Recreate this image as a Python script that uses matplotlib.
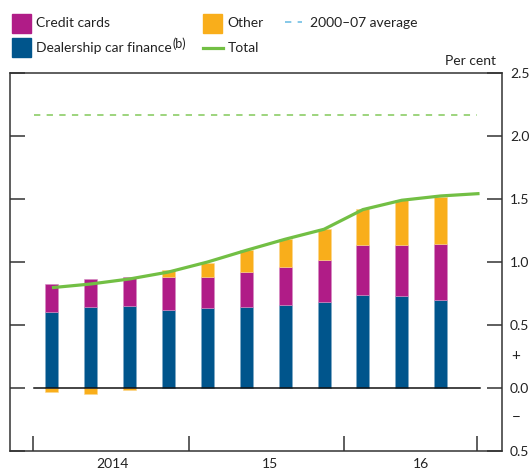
import numpy as np
import matplotlib
matplotlib.use("Agg")
import matplotlib.pyplot as plt
from matplotlib.patches import Rectangle
from matplotlib.lines import Line2D

plt.rcParams['font.family'] = ['Lato', 'DejaVu Sans']

# quarterly data, 2014 Q1 - 2016 Q3 (percentage points)
quarters = ['2014Q1', '2014Q2', '2014Q3', '2014Q4', '2015Q1', '2015Q2',
            '2015Q3', '2015Q4', '2016Q1', '2016Q2', '2016Q3']
dealer = [0.60, 0.64, 0.65, 0.62, 0.63, 0.64, 0.66, 0.68, 0.74, 0.73, 0.70]
credit = [0.225, 0.226, 0.23, 0.259, 0.251, 0.278, 0.302, 0.331, 0.391, 0.407, 0.439]
other = [-0.033, -0.052, -0.017, 0.059, 0.111, 0.178, 0.217, 0.246, 0.286, 0.35, 0.373]
# total line (last point is the latest monthly reading)
total_x = [0, 1, 2, 3, 4, 5, 6, 7, 8, 9, 10, 11]
total = [0.795, 0.824, 0.864, 0.919, 0.998, 1.091, 1.179, 1.258, 1.414, 1.488, 1.522, 1.541]
avg_0007 = 2.16
year_labels = ['2014', '15', '16']
year_pos = [1.55, 5.6, 9.5]
year_ticks = [-0.49, 3.52, 7.52, 10.94]

c_dealer = '#00558c'
c_credit = '#b01c87'
c_other = '#f9ae1b'
c_total = '#72bf44'
c_avg = '#95d173'
c_avgleg = '#7cc4e6'
c_axis = '#333333'
txt = '#222222'

fig = plt.figure(figsize=(5.31, 4.71), dpi=100)
W, H = 531, 471
ax = fig.add_axes([10.3 / W, 1 - 451 / H, (501.7 - 10.3) / W, (451 - 72.6) / H])

x = np.arange(len(quarters))
dealer = np.array(dealer)
credit = np.array(credit)
other = np.array(other)
bw = 0.335
ax.bar(x, dealer, bw, color=c_dealer, edgecolor='#7fa9c6', linewidth=0.4, zorder=2)
ax.bar(x, credit, bw, bottom=dealer, color=c_credit, edgecolor='#d68cc3', linewidth=0.4, zorder=2)
ax.bar(x, other, bw, bottom=np.where(other > 0, dealer + credit, 0),
       color=c_other, edgecolor='#fcd68d', linewidth=0.4, zorder=2)

ax.plot([-0.455, 11.0], [0, 0], color='#111111', lw=1.1, zorder=3)
ax.plot([-0.47, 10.93], [avg_0007, avg_0007], color=c_avg, lw=1.3,
        dashes=(3.5, 3.5), zorder=2)
ax.plot(total_x, total, color=c_total, lw=2.3, zorder=4, solid_capstyle='butt')

ax.set_xlim(-1.07, 11.57)
ax.set_ylim(-0.5, 2.5)

for s in ax.spines.values():
    s.set_color(c_axis)
    s.set_linewidth(1.1)

yt = [-0.5, 0, 0.5, 1.0, 1.5, 2.0, 2.5]
ax.set_yticks(yt)
ax.set_yticklabels(['0.5', '0.0', '0.5', '1.0', '1.5', '2.0', '2.5'])
ax.tick_params(axis='y', direction='in', left=True, right=True, labelleft=False,
               labelright=True, length=10.5, width=1.1, color=c_axis,
               labelsize=10, labelcolor=txt, pad=6)
ax.set_xticks(year_ticks)
ax.set_xticklabels([])
ax.set_xticks(year_pos, minor=True)
ax.set_xticklabels(year_labels, minor=True)
ax.tick_params(axis='x', which='major', direction='in', length=11, width=1.1,
               color=c_axis)
ax.tick_params(axis='x', which='minor', length=0, labelsize=10,
               labelcolor=txt, pad=5)

tr = ax.get_yaxis_transform()
ax.text(1.02, 0.25, '+', transform=tr, ha='left', va='center', fontsize=11, color=txt)
ax.text(1.02, -0.24, '\u2212', transform=tr, ha='left', va='center', fontsize=11, color=txt)
fig.text(496 / W, 1 - 61 / H, 'Per cent', ha='right', va='center', fontsize=10, color=txt)

# legend drawn by hand
def sq(x0, y0, color):
    fig.add_artist(Rectangle((x0 / W, 1 - (y0 + 19) / H), 19 / W, 19 / H,
                             color=color, transform=fig.transFigure))

def lab(x0, yc, s):
    return fig.text(x0 / W, 1 - yc / H, s, ha='left', va='center', fontsize=10, color=txt)

sq(12, 14, c_credit)
lab(36, 23, 'Credit cards')
sq(12, 38, c_dealer)
t = lab(36, 48, 'Dealership car finance')
sq(203, 14, c_other)
lab(227, 23, 'Other')
fig.add_artist(Line2D([285 / W, 302 / W], [1 - 22 / H, 1 - 22 / H], color=c_avgleg,
                      lw=1.3, dashes=(3.5, 3.5), transform=fig.transFigure))
lab(310, 23, '2000\u201307 average')
fig.add_artist(Line2D([203 / W, 223 / W], [1 - 47.5 / H, 1 - 47.5 / H], color=c_total,
                      lw=2.3, transform=fig.transFigure))
lab(228, 48, 'Total')

fig.canvas.draw()
bb = t.get_window_extent()
fig.text((bb.x1 + 1) / W, 1 - 44 / H, '(b)', ha='left', va='center', fontsize=9, color=txt)

fig.savefig('out.png', dpi=100)
